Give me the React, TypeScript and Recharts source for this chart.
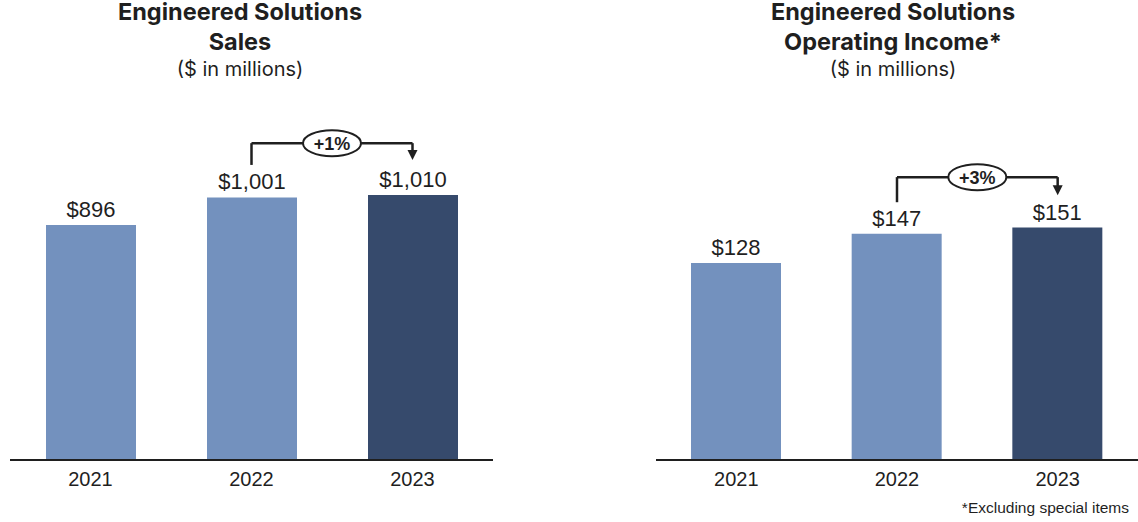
import { BarChart, Bar, XAxis, YAxis, Cell, LabelList, ReferenceLine, ReferenceDot } from "recharts";

const years = ["2021", "2022", "2023"];
const salesValues = [896, 1001, 1010];
const incomeValues = [128, 147, 151];
const growthLabels = ["+1%", "+3%"];

const LIGHT = "#7391BE";
const DARK = "#364A6C";
const INK = "#1f1f1f";
const barColors = [LIGHT, LIGHT, DARK];

interface PanelProps {
  values: number[];
  domainMax: number;
  top: number;
  left: number;
  width: number;
  marginLeft: number;
  marginRight: number;
  growth: string;
  // bracket levels in data units: start above 2022, horizontal line, arrow tip above 2023
  bracket: { start: number; level: number; tip: number };
}

function Panel({ values, domainMax, top, left, width, marginLeft, marginRight, growth, bracket }: PanelProps) {
  const data = years.map((year, i) => ({ year, idx: i, value: values[i] }));
  return (
    <div style={{ position: "absolute", left, top: 0 }}>
      <BarChart
        width={width}
        height={522}
        data={data}
        margin={{ top, right: marginRight, left: marginLeft, bottom: 32 }}
      >
        <XAxis
          xAxisId="cat"
          dataKey="year"
          axisLine={{ stroke: INK, strokeWidth: 2 }}
          tickLine={false}
          tickMargin={6}
          height={30}
          tick={{ fill: INK, fontSize: 20, fontFamily: "Liberation Sans, Arial, sans-serif" }}
        />
        <XAxis xAxisId="num" dataKey="idx" type="number" domain={[-0.5, 2.5]} hide allowDataOverflow />
        <YAxis hide domain={[0, domainMax]} allowDataOverflow />
        <Bar xAxisId="cat" dataKey="value" barSize={90} isAnimationActive={false}>
          {data.map((d, i) => (
            <Cell key={d.year} fill={barColors[i]} />
          ))}
          <LabelList
            dataKey="value"
            position="top"
            offset={8}
            formatter={(v: number) => `$${v.toLocaleString("en-US")}`}
            style={{ fill: INK, fontSize: 22, fontFamily: "Liberation Sans, Arial, sans-serif" }}
          />
        </Bar>
        <ReferenceLine
          xAxisId="num"
          ifOverflow="visible"
          stroke={INK}
          strokeWidth={2.5}
          segment={[
            { x: 1, y: bracket.start },
            { x: 1, y: bracket.level },
          ]}
        />
        <ReferenceLine
          xAxisId="num"
          ifOverflow="visible"
          stroke={INK}
          strokeWidth={2.5}
          segment={[
            { x: 1, y: bracket.level },
            { x: 2, y: bracket.level },
          ]}
        />
        <ReferenceLine
          xAxisId="num"
          ifOverflow="visible"
          stroke={INK}
          strokeWidth={2.5}
          segment={[
            { x: 2, y: bracket.level },
            { x: 2, y: bracket.tip + (bracket.level - bracket.tip) * 0.4 },
          ]}
        />
        <ReferenceDot
          xAxisId="num"
          x={2}
          y={bracket.tip}
          ifOverflow="visible"
          shape={(p: any) => (
            <polygon
              points={`${p.cx - 5},${p.cy - 10} ${p.cx + 5},${p.cy - 10} ${p.cx},${p.cy}`}
              fill={INK}
            />
          )}
        />
        <ReferenceDot
          xAxisId="num"
          x={1.5}
          y={bracket.level}
          ifOverflow="visible"
          shape={(p: any) => (
            <g>
              <ellipse cx={p.cx} cy={p.cy} rx={29} ry={13} fill="#fff" stroke={INK} strokeWidth={2} />
              <text
                x={p.cx}
                y={p.cy + 1}
                textAnchor="middle"
                dominantBaseline="central"
                fill={INK}
                fontSize={18}
                fontWeight={700}
                fontFamily="Liberation Sans, Arial, sans-serif"
              >
                {growth}
              </text>
            </g>
          )}
        />
      </BarChart>
    </div>
  );
}

const titleStyle: React.CSSProperties = {
  position: "absolute",
  top: -3,
  textAlign: "center",
  color: INK,
  fontFamily: "Inter, 'Noto Sans', sans-serif",
  lineHeight: "30px",
};

function Title({ center, lines }: { center: number; lines: string[] }) {
  return (
    <div style={{ ...titleStyle, left: center - 250, width: 500 }}>
      {lines.map((l) => (
        <div key={l} style={{ fontSize: 23.5, fontWeight: 700 }}>
          {l}
        </div>
      ))}
      <div style={{ fontSize: 20, fontWeight: 400, lineHeight: "24px" }}>($ in millions)</div>
    </div>
  );
}

export default function App() {
  return (
    <div style={{ position: "absolute", left: 0, top: 0, width: 1138, height: 522, background: "#fff", overflow: "hidden" }}>
      <Panel
        values={salesValues}
        domainMax={1400}
        top={92.8}
        left={0}
        width={500}
        marginLeft={10}
        marginRight={7}
        growth={growthLabels[0]}
        bracket={{ start: 1125, level: 1208, tip: 1144 }}
      />
      <Panel
        values={incomeValues}
        domainMax={200}
        top={152.2}
        left={645}
        width={493}
        marginLeft={11}
        marginRight={0}
        growth={growthLabels[1]}
        bracket={{ start: 167.5, level: 183.8, tip: 172 }}
      />
      <Title center={240} lines={["Engineered Solutions", "Sales"]} />
      <Title center={893} lines={["Engineered Solutions", "Operating Income*"]} />
      <div
        style={{
          position: "absolute",
          right: 9,
          top: 499,
          fontSize: 15.5,
          color: INK,
          fontFamily: "Liberation Sans, Arial, sans-serif",
        }}
      >
        *Excluding special items
      </div>
    </div>
  );
}
